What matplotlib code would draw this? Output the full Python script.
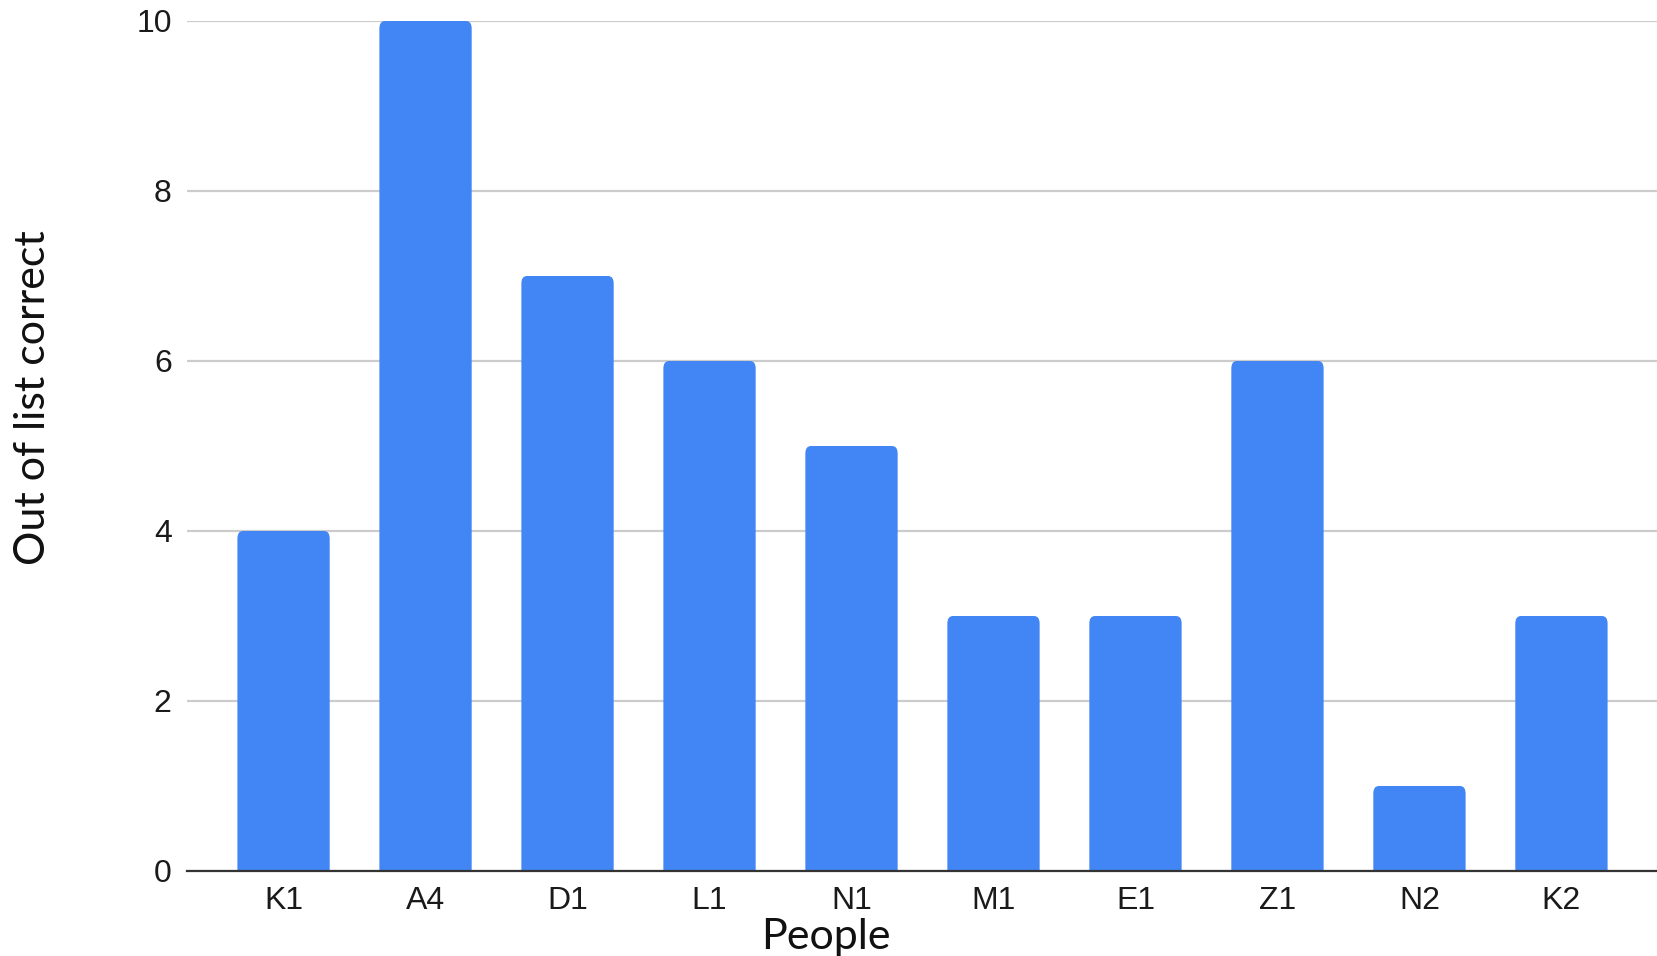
import matplotlib
matplotlib.use("Agg")
import matplotlib.pyplot as plt
from matplotlib.patches import FancyBboxPatch

people = ["K1", "A4", "D1", "L1", "N1", "M1", "E1", "Z1", "N2", "K2"]
correct = [4, 10, 7, 6, 5, 3, 3, 6, 1, 3]
y_ticks = [0, 2, 4, 6, 8, 10]

W, H, DPI = 1658, 956, 100
BLUE = "#4285F4"
fig = plt.figure(figsize=(W / DPI, H / DPI), dpi=DPI)
ax = fig.add_axes([187 / W, 1 - 871 / H, (W - 187) / W, (871 - 21) / H])

bars = ax.bar(range(len(people)), correct, width=0.65, color=BLUE, zorder=3)

# replace plain rectangles with ones whose top corners are slightly rounded;
# each patch extends below zero so the axes clip away the lower corners
for b in bars:
    x, y0, w, h = b.get_x(), b.get_y(), b.get_width(), b.get_height()
    b.set_visible(False)
    ext = 0.2
    patch = FancyBboxPatch((x, y0 - ext), w, h + ext,
                           boxstyle="round,pad=0,rounding_size=0.04",
                           mutation_aspect=2.2, facecolor=BLUE, edgecolor="none",
                           zorder=3)
    ax.add_patch(patch)

ax.set_xlim(-0.68, len(people) - 1 + 0.68)
ax.set_ylim(0, 10)
ax.set_yticks(y_ticks)
ax.set_xticks(range(len(people)))
ax.set_xticklabels(people)

for s in ["top", "right", "left"]:
    ax.spines[s].set_visible(False)
ax.spines["bottom"].set_color("#333333")
ax.spines["bottom"].set_linewidth(1.6)
ax.spines["bottom"].set_zorder(4)

ax.grid(axis="y", color="#cccccc", linewidth=1.6, zorder=0)
ax.set_axisbelow(True)
ax.tick_params(axis="both", length=0, labelsize=23, colors="#1a1a1a")
ax.tick_params(axis="y", pad=11)
ax.tick_params(axis="x", pad=11)
for lab in ax.get_xticklabels() + ax.get_yticklabels():
    lab.set_family("Liberation Sans")

fig.text(826 / W, 1 - 937 / H, "People", ha="center", va="center",
         fontsize=31, family="Lato", color="#111111")
fig.text(33 / W, 1 - 398 / H, "Out of list correct", ha="center", va="center",
         rotation=90, fontsize=31, family="Lato", color="#111111")

fig.savefig("out.png", dpi=DPI, facecolor="white")
